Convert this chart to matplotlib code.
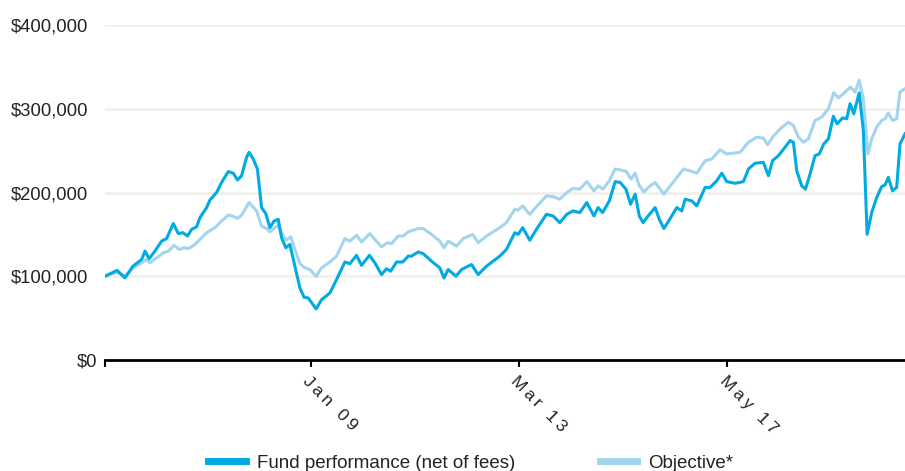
import numpy as np
import matplotlib
matplotlib.use("Agg")
import matplotlib.pyplot as plt
from matplotlib.ticker import FuncFormatter

# months since start of the chart and values in $
fund_months = [0, 2.9, 4.8, 6.7, 8.8, 9.6, 10.6, 12.0, 13.6, 14.8, 16.4, 17.6, 18.7, 19.8,
               20.8, 22.0, 22.8, 24.4, 25.2, 26.8, 28.0, 29.6, 30.8, 31.8, 32.8, 34.0, 34.6,
               35.6, 36.6, 37.6, 38.6, 39.6, 40.6, 41.6, 42.4, 43.4, 44.4, 45.6, 46.8, 47.8,
               48.8, 50.7, 52.0, 54.0, 55.6, 57.6, 58.8, 60.4, 61.6, 63.5, 64.8, 66.4, 67.6,
               68.6, 70.0, 71.5, 72.8, 73.6, 75.2, 76.4, 78.4, 80.4, 81.4, 82.4, 84.3, 85.6,
               88.0, 89.6, 91.6, 94.8, 96.4, 98.4, 99.2, 100.3, 102.0, 103.6, 106.0, 107.6,
               109.2, 110.9, 112.4, 114.0, 115.7, 117.4, 118.4, 119.5, 121.1, 122.5, 123.7,
               125.1, 126.2, 127.3, 128.3, 129.2, 130.4, 132.1, 133.1, 134.2, 135.6, 137.3,
               138.5, 139.3, 140.9, 142.1, 144.1, 145.3, 146.9, 148.1, 149.3, 151.3, 153.3,
               154.5, 156.1, 158.1, 159.3, 160.3, 161.7, 163.3, 164.5, 165.3, 166.1, 167.3,
               168.2, 169.3, 170.5, 171.5, 172.6, 173.7, 174.9, 175.8, 177.1, 178.1, 178.9,
               179.8, 181.1, 182.1, 183.0, 184.1, 185.3, 186.5, 187.3, 188.1, 189.1, 190.1,
               190.9, 192.1]
fund_values = [100, 107, 98, 112, 120, 130, 121, 130, 142, 145, 163, 151, 152, 148,
               156, 159, 170, 182, 191, 200, 212, 225, 223, 215, 220, 242, 248,
               240, 228, 182, 175, 158, 166, 168, 146, 134, 138, 112, 86, 75,
               74, 61, 72, 80, 96, 117, 115, 125, 113, 125, 116, 102, 109,
               106, 117, 117, 124, 124, 129, 127, 118, 110, 98, 108, 100, 108,
               114, 102, 112, 124, 132, 152, 150, 158, 143, 156, 174, 172,
               164, 174, 178, 176, 188, 172, 182, 176, 190, 213, 212,
               204, 186, 198, 172, 164, 172, 182, 168, 157, 168, 182,
               178, 192, 190, 184, 206, 206, 214, 223, 213, 211, 213,
               228, 235, 236, 220, 238, 244, 254, 262, 260, 226, 208,
               204, 222, 244, 246, 258, 264, 291, 282, 289, 288, 306,
               294, 319, 274, 150, 176, 194, 207, 209, 218, 202, 206,
               258, 270]

obj_months = [0, 2.9, 4.8, 6.8, 8.8, 10.0, 10.8, 12.4, 14.0, 15.2, 16.6, 17.8, 19.0, 20.0,
              21.6, 22.8, 24.4, 26.4, 28.0, 29.6, 30.6, 31.8, 32.8, 34.6, 36.4, 37.6, 38.8,
              39.6, 40.8, 41.6, 42.4, 43.5, 44.6, 45.6, 46.8, 48.0, 49.2, 50.7, 52.0, 54.0,
              55.6, 57.6, 58.8, 60.4, 61.6, 63.6, 64.8, 66.4, 67.8, 68.8, 70.4, 71.6, 72.8,
              75.2, 76.4, 78.4, 80.4, 81.4, 82.4, 84.4, 86.0, 88.3, 89.6, 91.6, 94.8, 96.4,
              98.4, 99.2, 100.3, 102.0, 103.6, 106.0, 107.6, 109.2, 110.9, 112.4, 114.0,
              115.7, 117.4, 118.4, 119.6, 121.1, 122.5, 123.7, 125.2, 126.3, 127.3, 128.3,
              129.4, 130.7, 132.1, 133.3, 134.2, 135.6, 137.3, 138.9, 140.4, 142.1, 144.1,
              145.7, 147.7, 149.3, 152.5, 154.5, 156.5, 158.1, 159.1, 160.3, 162.1, 164.1,
              165.3, 166.5, 167.7, 168.9, 170.5, 172.1, 173.7, 175.0, 176.1, 177.3, 179.0,
              180.1, 181.1, 182.1, 183.2, 184.1, 185.3, 186.5, 187.3, 188.1, 189.1, 190.1,
              190.9, 192.1]
obj_values = [100, 105, 100, 110, 116, 120, 116, 122, 128, 130, 137, 132, 134, 133,
              138, 144, 152, 158, 166, 173, 172, 169, 173, 188, 178, 160, 157,
              153, 158, 161, 152, 143, 147, 132, 115, 110, 108, 100, 110, 117,
              124, 145, 142, 149, 141, 151, 144, 135, 140, 139, 148, 148, 153,
              157, 157, 150, 142, 134, 142, 136, 145, 150, 140, 148, 158, 164,
              180, 179, 184, 174, 183, 196, 195, 192, 200, 205, 204,
              213, 202, 208, 204, 214, 228, 227, 225, 216, 223, 208,
              201, 207, 212, 204, 198, 207, 218, 228, 226, 223, 238,
              240, 251, 246, 248, 260, 266, 265, 257, 266, 276, 284,
              280, 266, 260, 264, 286, 290, 300, 319, 313, 318, 326,
              320, 334, 312, 246, 264, 278, 286, 288, 295, 286, 288,
              320, 324]

tick_months = [0, 49.4, 99.4, 149.4]
tick_labels = ["", "Jan 09", "Mar 13", "May 17"]
y_ticks = [0, 100000, 200000, 300000, 400000]

fund_color = "#00abe3"
obj_color = "#a3d5ee"

plt.rcParams["font.family"] = ["Liberation Sans", "DejaVu Sans"]

fig = plt.figure(figsize=(9.05, 4.71), dpi=100)
ax = fig.add_axes([105 / 905, 111 / 471, 800 / 905, 335 / 471])

ax.plot(obj_months, np.array(obj_values) * 1000, color=obj_color, lw=2.2,
        label="Objective*", zorder=2)
ax.plot(fund_months, np.array(fund_values) * 1000, color=fund_color, lw=2.2,
        label="Fund performance (net of fees)", zorder=3)

ax.set_xlim(0, 192.1)
ax.set_ylim(0, 400000)

ax.set_yticks(y_ticks)
ax.yaxis.set_major_formatter(FuncFormatter(lambda v, p: "${:,.0f}".format(v)))
ax.tick_params(axis="y", length=0, pad=12, labelsize=13.3, colors="#222222")
ax.yaxis.get_major_ticks()[0].set_pad(5.5)
ax.grid(axis="y", color="#f1f0eb", lw=2)
ax.set_axisbelow(True)

# spaced-out rotated date labels
spaced = ["\u2009".join(list(s)) for s in tick_labels]
ax.set_xticks(tick_months)
ax.set_xticklabels(spaced, rotation=-45, ha="left", va="top",
                   rotation_mode="anchor", fontsize=12.5, color="#222222")
ax.tick_params(axis="x", length=5, width=1.5, color="black", pad=5)

for s in ["top", "right", "left"]:
    ax.spines[s].set_visible(False)
ax.spines["bottom"].set_linewidth(2)
ax.spines["bottom"].set_color("black")

handles, labels = ax.get_legend_handles_labels()
leg = fig.legend(handles[::-1], labels[::-1], loc="lower center",
                 bbox_to_anchor=(471 / 905, -0.022), ncol=2, frameon=False,
                 fontsize=13.5, handlelength=2.0, handletextpad=0.6,
                 columnspacing=4.5, borderaxespad=0.1)
for line in leg.get_lines():
    line.set_linewidth(5)
for t in leg.get_texts():
    t.set_color("#222222")

fig.savefig("out.png", dpi=100)
